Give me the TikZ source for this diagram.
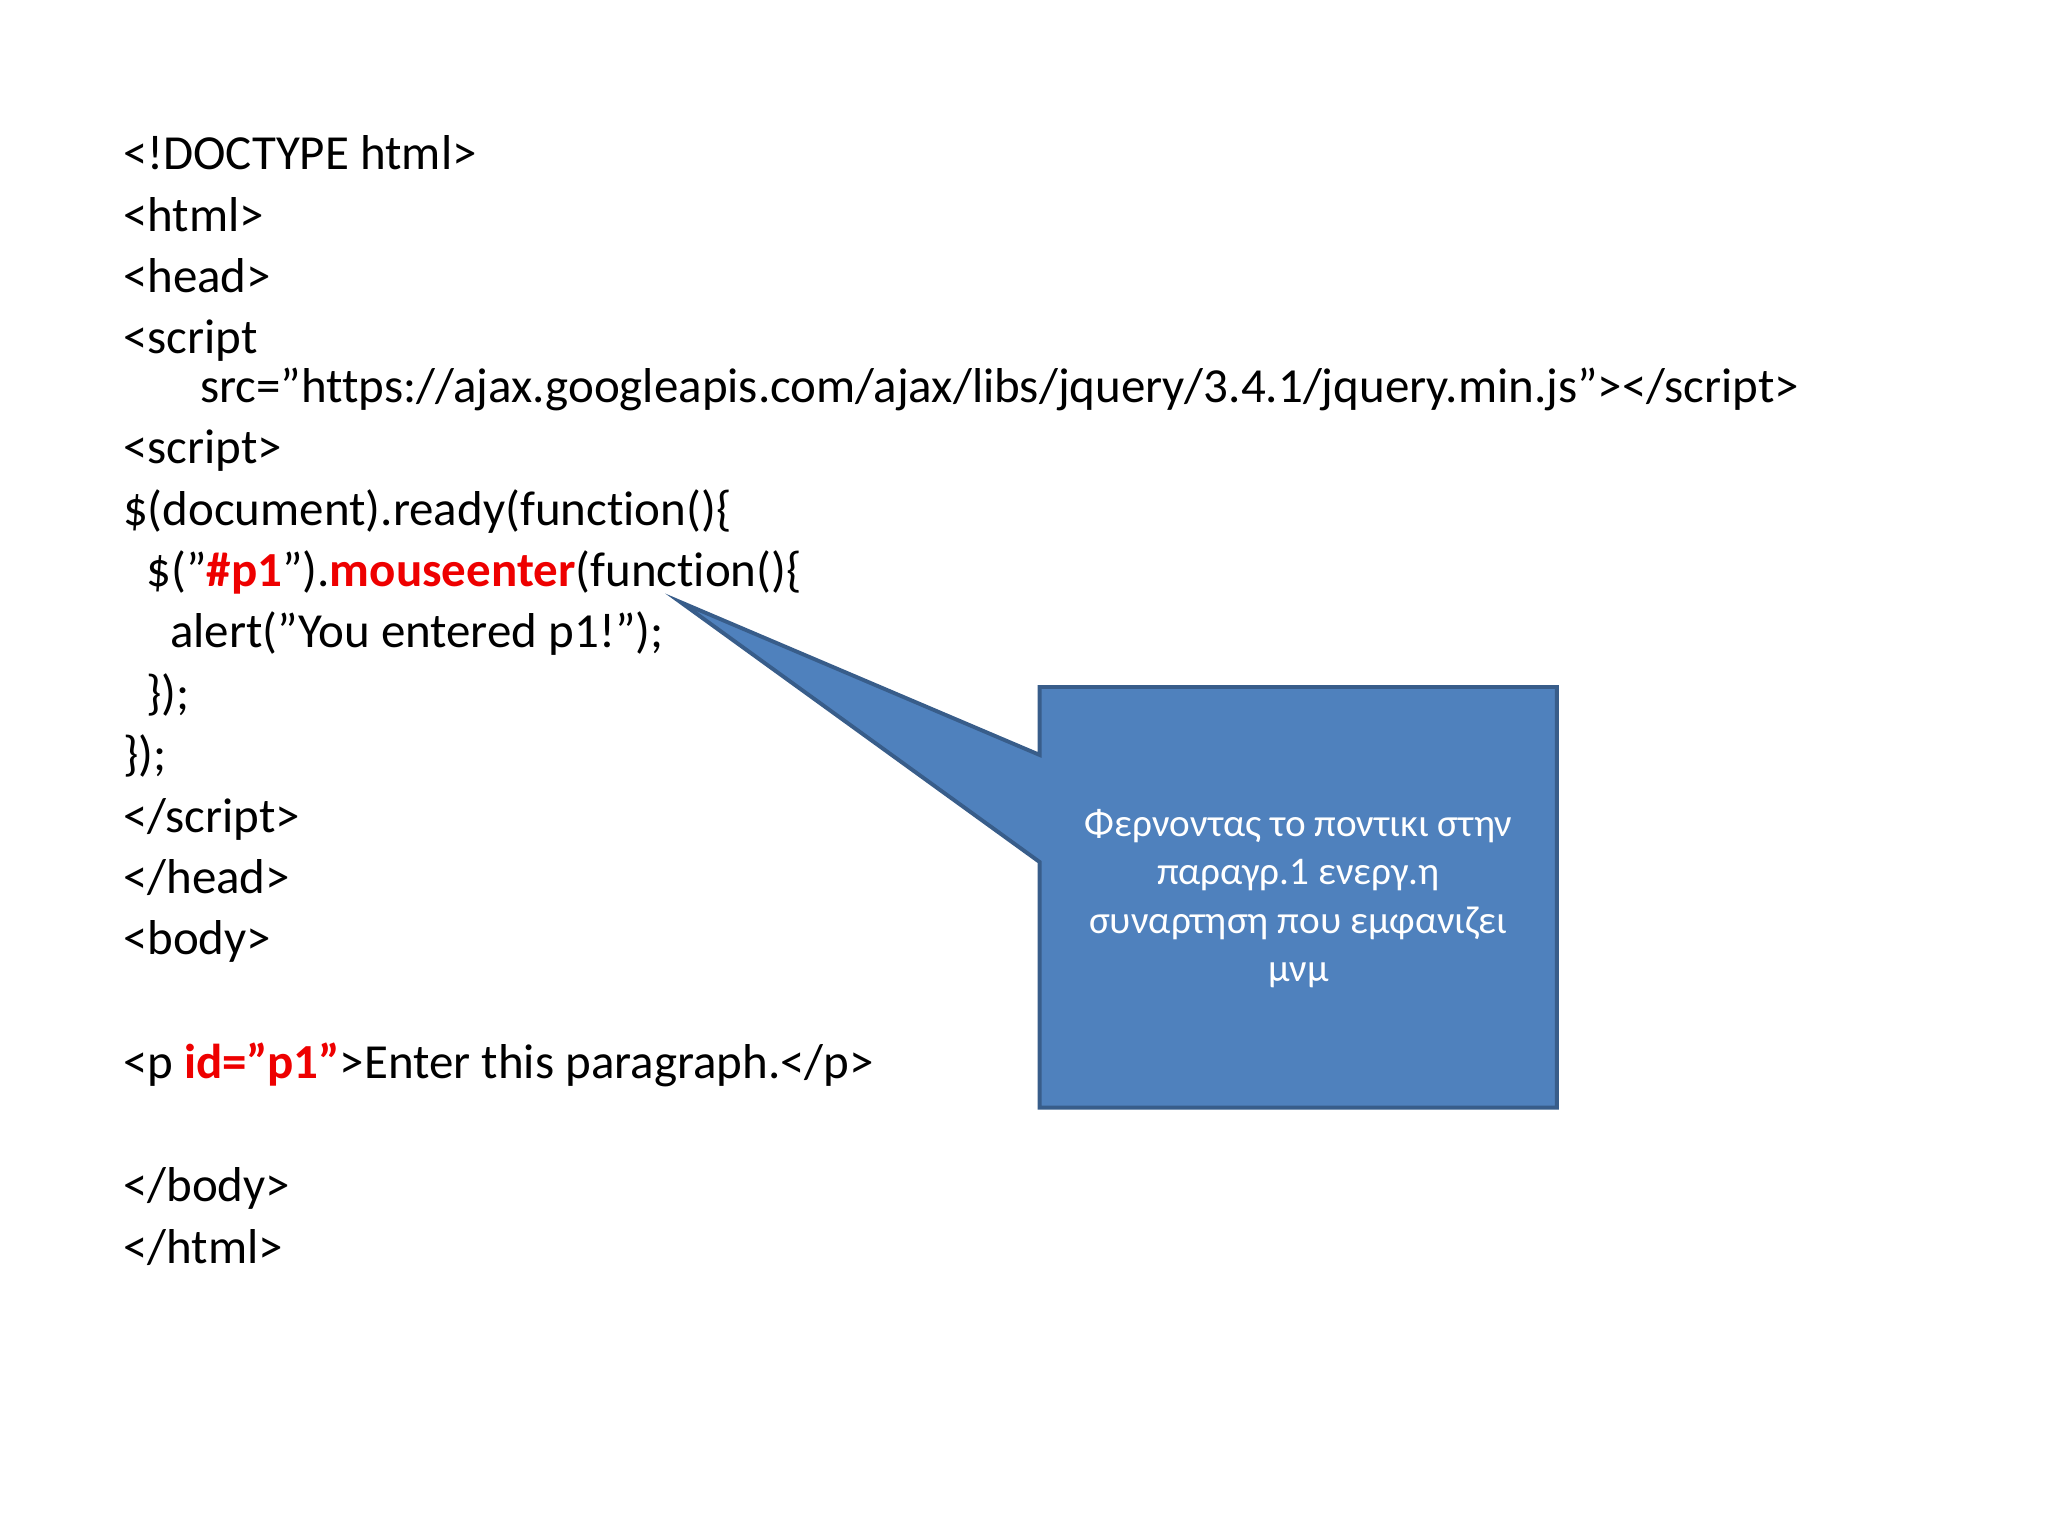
\documentclass[tikz,border=0pt]{standalone}
\usepackage{fontspec}
\setmainfont{Carlito}[Ligatures={NoCommon}]
\usepackage{xcolor}
\definecolor{calfill}{HTML}{4F81BD}
\definecolor{caldraw}{HTML}{385D8A}
\definecolor{hl}{HTML}{EE0000}
\newcommand{\hlt}[1]{\textcolor{hl}{\textbf{#1}}}
\newcommand{\dq}{\char34\relax}
\begin{document}
\begin{tikzpicture}[x=1pt,y=-1pt,
  code/.style={anchor=base west,inner sep=0pt,font=\fontsize{37.5}{40}\selectfont},
  ctext/.style={align=center,text=white,font=\fontsize{30}{37}\selectfont}]
\useasboundingbox (0,0) rectangle (1568,1176);
\node[code] (l1) at (94,130) {<!DOCTYPE html>};
\node[code] (l2) at (94,177) {<html>};
\node[code] (l3) at (94,224) {<head>};
\node[code] (l4) at (94,271) {<script};
\node[code] (l5) at (153,308) {src=\dq https://ajax.googleapis.com/ajax/libs/jquery/3.4.1/jquery.min.js\dq></script>};
\node[code] (l6) at (94,355) {<script>};
\node[code] (l7) at (94,402) {\$(document).ready(function()\{};
\node[code] (l8) at (112,449) {\$(\dq\hlt{\#p1}\dq).\hlt{mouseenter}(function()\{};
\node[code] (l9) at (130,496) {alert(\dq You entered p1!\dq);};
\node[code] (l10) at (112,543) {\});};
\node[code] (l11) at (94,590) {\});};
\node[code] (l12) at (94,637) {</script>};
\node[code] (l13) at (94,684) {</head>};
\node[code] (l14) at (94,731) {<body>};
\node[code] (l15) at (94,826) {<p \hlt{id=\dq p1\dq}>Enter this paragraph.</p>};
\node[code] (l16) at (94,920) {</body>};
\node[code] (l17) at (94,967) {</html>};
\draw[caldraw,line width=3pt,fill=calfill,line join=miter]
  (796,526) -- (1192,526) -- (1192,848) -- (796,848) -- (796,660) -- (521,461) -- (796,578) -- cycle;
\node[ctext] (callout) at (994,688) {Φερνοντας το ποντικι στην\\παραγρ.1 ενεργ.η\\συναρτηση που εμφανιζει\\μνμ};
\end{tikzpicture}
\end{document}
